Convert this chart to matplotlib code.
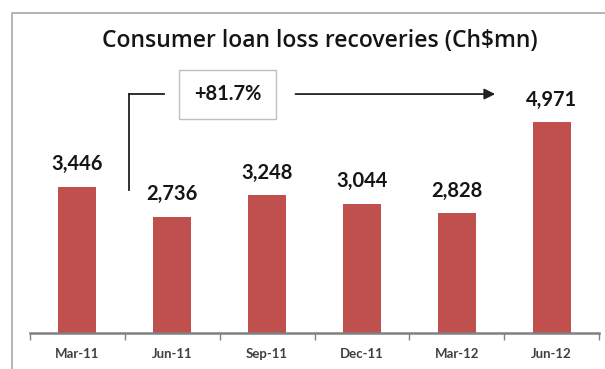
import matplotlib
matplotlib.use('Agg')
import matplotlib.pyplot as plt
from matplotlib.patches import Rectangle

# Quarterly consumer loan loss recoveries, Ch$ million
quarters = ['Mar-11', 'Jun-11', 'Sep-11', 'Dec-11', 'Mar-12', 'Jun-12']
recoveries = [3446, 2736, 3248, 3044, 2828, 4971]
growth_label = '+81.7%'

bar_color = '#C0504D'
plt.rcParams['font.family'] = ['Lato', 'DejaVu Sans']

fig = plt.figure(figsize=(6.05, 3.69), dpi=100)
ax = fig.add_axes([30 / 605, 36 / 369, 569 / 605, 320 / 369])

x = range(len(quarters))
ax.bar(x, recoveries, width=0.40, color=bar_color, zorder=2)
ax.set_xlim(-0.5, len(quarters) - 0.5)
ax.set_ylim(0, 7540)

for xi, v in zip(x, recoveries):
    ax.annotate(f'{v:,}', (xi, v), xytext=(0, 9), textcoords='offset points',
                ha='center', va='bottom', fontsize=14.5, fontweight='bold',
                color='#151515')

# category axis: labels centred, tick marks on the boundaries
ax.set_xticks(list(x))
ax.set_xticklabels(quarters, fontsize=9.5, color='#404040', fontweight='bold')
ax.tick_params(axis='x', which='major', length=0, pad=11)
ax.set_xticks([i - 0.5 for i in range(len(quarters) + 1)], minor=True)
ax.tick_params(axis='x', which='minor', length=5, color='#808080', width=1)
ax.set_yticks([])
for side in ['top', 'right', 'left']:
    ax.spines[side].set_visible(False)
ax.spines['bottom'].set_color('#808080')
ax.spines['bottom'].set_linewidth(1.8)

# growth callout from Jun-11 to Jun-12
x_start, x_end = 0.544, 4.405
y_low, y_line = 3370, 5630
box_x = 1.583
ax.plot([x_start, x_start], [y_low, y_line], color='#202020', lw=1.3)
ax.plot([x_start, 0.91], [y_line, y_line], color='#202020', lw=1.3)
ax.annotate('', xy=(x_end, y_line), xytext=(2.30, y_line),
            arrowprops=dict(arrowstyle='-|>', color='#202020', lw=1.3,
                            mutation_scale=16, shrinkA=0, shrinkB=0))
ax.text(box_x, y_line, growth_label, ha='center', va='center', fontsize=14.5,
        fontweight='bold', color='#151515',
        bbox=dict(boxstyle='square,pad=0.72', fc='white', ec='#BFBFBF', lw=1))

fig.text(320 / 605, 1 - 41 / 369, 'Consumer loan loss recoveries (Ch$mn)',
         ha='center', va='center', fontsize=16.5, color='#151515',
         family=['Open Sans', 'DejaVu Sans'], fontweight='semibold')

# outer chart frame (open on the right)
fig.patches.append(Rectangle((12 / 605, -0.05), 1.0, 1.05 - 13 / 369,
                             transform=fig.transFigure, fill=False,
                             ec='#A8A8A8', lw=1.2))

fig.savefig('out.png', dpi=100)
